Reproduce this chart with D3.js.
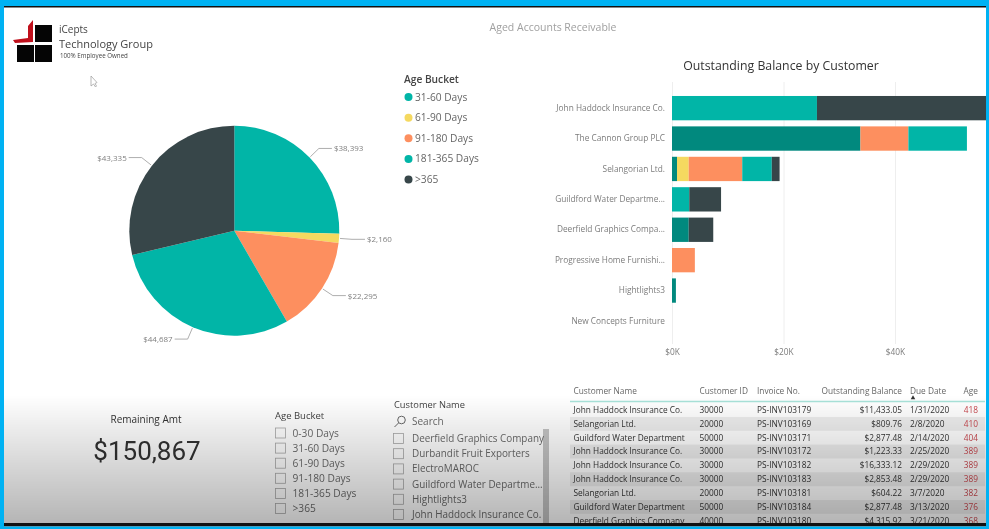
<!DOCTYPE html>
<html>
<head>
<meta charset="utf-8">
<title>Aged Accounts Receivable</title>
<script src="https://cdn.jsdelivr.net/npm/d3@7"></script>
<style>
    html, body { margin: 0; padding: 0; background: #fff; overflow: hidden; }
    svg { display: block; }
    text { font-family: "Open Sans", sans-serif; }
    .grid line { stroke: #eeeeee; }
    .grid path { display: none; }
    .graphTicks path, .graphTicks line { display: none; }
    .graphTicks text { font-size: 8.3px; fill: #7c7c7c; font-family: "Open Sans", sans-serif; }
</style>
</head>
<body>
<div class="vis"></div>
<script>
// pie + legend
const ageBuckets = ["31-60 Days", "61-90 Days", "91-180 Days", "181-365 Days", ">365"];
const bucketTotals = [38393, 2160, 22295, 44687, 43335];

// bars, one array per bucket, same order as customers
const customers = ["John Haddock Insurance Co.", "The Cannon Group PLC", "Selangorian Ltd.", "Guildford Water Departme...",
    "Deerfield Graphics Compa...", "Progressive Home Furnishi...", "Hightlights3", "New Concepts Furniture"];
const days31to60 = [0, 33800, 900, 0, 3000, 0, 700, 0];
const days61to90 = [0, 0, 2100, 0, 0, 0, 0, 0];
const days91to180 = [0, 8600, 9600, 0, 0, 4100, 0, 0];
const days181to365 = [26000, 10500, 5300, 3100, 0, 0, 0, 0];
const daysOver365 = [31800, 0, 1400, 5700, 4400, 0, 0, 0];
const xTicks = [0, 20000, 40000];

// table columns
const tableHeaders = ["Customer Name", "Customer ID", "Invoice No.", "Outstanding Balance", "Due Date", "Age"];
const rowCustomers = ["John Haddock Insurance Co.", "Selangorian Ltd.", "Guildford Water Department", "John Haddock Insurance Co.",
    "John Haddock Insurance Co.", "John Haddock Insurance Co.", "Selangorian Ltd.", "Guildford Water Department", "Deerfield Graphics Company"];
const rowIds = ["30000", "20000", "50000", "30000", "30000", "30000", "20000", "50000", "40000"];
const rowInvoices = ["PS-INV103179", "PS-INV103169", "PS-INV103171", "PS-INV103172", "PS-INV103182", "PS-INV103183", "PS-INV103181", "PS-INV103184", "PS-INV103180"];
const rowBalances = ["$11,433.05", "$809.76", "$2,877.48", "$1,223.33", "$16,333.12", "$2,853.48", "$604.22", "$2,877.48", "$4,315.92"];
const rowDates = ["1/31/2020", "2/8/2020", "2/14/2020", "2/25/2020", "2/29/2020", "2/29/2020", "3/7/2020", "3/13/2020", "3/21/2020"];
const rowAges = [418, 410, 404, 389, 389, 389, 382, 376, 368];

// slicers
const ageOptions = ["0-30 Days", "31-60 Days", "61-90 Days", "91-180 Days", "181-365 Days", ">365"];
const customerOptions = ["Deerfield Graphics Company", "Durbandit Fruit Exporters", "ElectroMAROC", "Guildford Water Departme...", "Hightlights3", "John Haddock Insurance Co."];

const remainingAmt = "$150,867";

(function () {
    const svgWidth = 989;
    const svgHeight = 529;

    const svg = d3.select('.vis')
        .append("svg")
            .attr('width', svgWidth)
            .attr('height', svgHeight);

    const defs = svg.append("defs");

    const shade = defs.append("linearGradient")
        .attr("id", "shade")
        .attr("x1", 0).attr("x2", 0).attr("y1", 0).attr("y2", 1);
    shade.append("stop").attr("offset", "0%").attr("stop-color", "#000").attr("stop-opacity", 0);
    shade.append("stop").attr("offset", "100%").attr("stop-color", "#000").attr("stop-opacity", 0.29);

    defs.append("clipPath").attr("id", "plotClip")
        .append("rect").attr("x", 672).attr("y", 80).attr("width", 314).attr("height", 270);
    defs.append("clipPath").attr("id", "tableClip")
        .append("rect").attr("x", 565).attr("y", 380).attr("width", 421).attr("height", 143);

    // the source is a soft video frame, so everything inside the border is slightly blurred
    const page = svg.append("g").style("filter", "blur(0.6px)");

    // pie colours are both the light teal, the bars use the darker one for 31-60
    const pieColours = ["#01b5a7", "#f5d960", "#fd8f5f", "#01b5a7", "#374649"];
    const barColours = ["#01897e", "#f5d960", "#fd8f5f", "#01b5a7", "#374649"];

    drawHeader();
    drawPie();
    drawLegend();
    drawBars();
    drawKpi();
    drawSlicers();
    drawTable();
    drawFrame();

    function drawHeader() {
        const logo = page.append("g");
        logo.selectAll("rect")
            .data([[35, 25], [17, 45], [35, 45]])
            .enter().append("rect")
                .attr("x", d => d[0])
                .attr("y", d => d[1])
                .attr("width", 17)
                .attr("height", 17)
                .attr("fill", "#050505");
        logo.append("path")
            .attr("d", "M13 40 L28 38 L28 26 L33 20 L33 42 L15 43 Z")
            .attr("fill", "#c0101c");

        page.append("text").attr("x", 59).attr("y", 33).attr("font-size", 10).attr("fill", "#444").text("iCepts");
        page.append("text").attr("x", 59).attr("y", 47.5).attr("font-size", 11).attr("fill", "#444").text("Technology Group");
        page.append("text").attr("x", 60).attr("y", 58).attr("font-size", 6.2).attr("fill", "#444").text("100% Employee Owned");

        page.append("text")
            .attr("x", 553).attr("y", 31)
            .attr("text-anchor", "middle")
            .attr("font-size", 10.5)
            .attr("fill", "#a0a0a0")
            .text("Aged Accounts Receivable");

        // mouse pointer caught in the recording
        page.append("path")
            .attr("d", "M91 76 L91 86 L93.5 84 L95.5 87 L96.5 86 L95 83.5 L97 82.5 Z")
            .attr("fill", "#fff")
            .attr("stroke", "#999")
            .attr("stroke-width", 0.7);
    }

    function drawPie() {
        const cx = 234.3, cy = 230.7, radius = 105, elbowRadius = 118;

        const pie = d3.pie().sort(null)(bucketTotals);
        const arc = d3.arc().innerRadius(0).outerRadius(radius);
        const graph = page.append("g").attr("transform", `translate(${cx}, ${cy})`);

        graph.selectAll("path.slice")
            .data(pie)
            .enter().append("path")
                .attr("class", "slice")
                .attr("d", arc)
                .attr("fill", (d, i) => pieColours[i]);

        const pointAt = function (d, r) {
            const mid = (d.startAngle + d.endAngle) / 2;
            return [Math.sin(mid) * r, -Math.cos(mid) * r];
        };
        const side = d => ((d.startAngle + d.endAngle) / 2 < Math.PI ? 1 : -1);

        graph.selectAll("path.leader")
            .data(pie)
            .enter().append("path")
                .attr("class", "leader")
                .attr("d", function (d) {
                    const a = pointAt(d, radius + 1);
                    const b = pointAt(d, elbowRadius);
                    return d3.line()([a, b, [b[0] + side(d) * 13, b[1]]]);
                })
                .attr("fill", "none")
                .attr("stroke", "#999")
                .attr("stroke-width", 0.8);

        graph.selectAll("text")
            .data(pie)
            .enter().append("text")
                .attr("x", d => pointAt(d, elbowRadius)[0] + side(d) * 15)
                .attr("y", d => pointAt(d, elbowRadius)[1] + 3)
                .attr("text-anchor", d => (side(d) > 0 ? "start" : "end"))
                .attr("font-size", 8)
                .attr("fill", "#808080")
                .text(d => d3.format("$,")(d.value));
    }

    function drawLegend() {
        page.append("text")
            .attr("x", 404).attr("y", 83)
            .attr("font-size", 10.2).attr("font-weight", 600).attr("fill", "#444")
            .text("Age Bucket");

        const y = d3.scalePoint().domain(ageBuckets).range([97, 179.5]);
        const items = page.append("g").selectAll("g")
            .data(ageBuckets)
            .enter().append("g")
                .attr("transform", d => `translate(408.5, ${y(d)})`);
        items.append("circle").attr("r", 4).attr("fill", (d, i) => pieColours[i]);
        items.append("text")
            .attr("x", 6.5).attr("y", 3.5)
            .attr("font-size", 10.2).attr("fill", "#666")
            .text(d => d);
    }

    function drawBars() {
        page.append("text")
            .attr("x", 781).attr("y", 69.5)
            .attr("text-anchor", "middle")
            .attr("font-size", 12.3).attr("fill", "#333")
            .text("Outstanding Balance by Customer");

        const xScale = d3.scaleLinear().domain([0, 60000]).range([672, 1006.5]);
        const yScale = d3.scaleBand().domain(customers).range([89.9, 339.2]).padding(0.2);

        page.append("g")
            .attr("class", "grid")
            .attr("transform", "translate(0, 344)")
            .call(d3.axisBottom(xScale).tickValues(xTicks).tickSize(-262).tickFormat(""));

        page.append("g")
            .attr("class", "graphTicks")
            .attr("transform", "translate(0, 346)")
            .call(d3.axisBottom(xScale).tickValues(xTicks).tickSize(0).tickPadding(3)
                .tickFormat(d => "$" + d / 1000 + "K"));

        page.append("g")
            .attr("class", "graphTicks")
            .attr("transform", "translate(672, 0)")
            .call(d3.axisLeft(yScale).tickSize(0).tickPadding(7));

        const table = customers.map((name, i) => ({
            name: name,
            a: days31to60[i], b: days61to90[i], c: days91to180[i], d: days181to365[i], e: daysOver365[i]
        }));
        const stackedData = d3.stack().keys(["a", "b", "c", "d", "e"])(table);

        page.append("g")
            .attr("clip-path", "url(#plotClip)")
            .selectAll("g")
            .data(stackedData)
            .enter().append("g")
                .attr("fill", (d, i) => barColours[i])
                .selectAll("rect")
                .data(d => d)
                .enter().append("rect")
                    .attr("x", d => xScale(d[0]))
                    .attr("y", d => yScale(d.data.name))
                    .attr("width", d => xScale(d[1]) - xScale(d[0]))
                    .attr("height", yScale.bandwidth());
    }

    function drawKpi() {
        page.append("text")
            .attr("x", 146).attr("y", 423)
            .attr("text-anchor", "middle")
            .attr("font-size", 10).attr("fill", "#333")
            .text("Remaining Amt");
        page.append("text")
            .attr("x", 147).attr("y", 460)
            .attr("text-anchor", "middle")
            .attr("font-size", 26)
            .attr("fill", "#333")
            .style("font-family", "Roboto, sans-serif")
            .text(remainingAmt);
    }

    function slicer(options, x, y0, y1, textX, fontSize) {
        const y = d3.scalePoint().domain(options).range([y0, y1]);
        const items = page.append("g").selectAll("g")
            .data(options)
            .enter().append("g")
                .attr("transform", d => `translate(0, ${y(d)})`);
        items.append("rect")
            .attr("x", x).attr("y", -5)
            .attr("width", 10).attr("height", 10)
            .attr("fill", "none").attr("stroke", "#a8a8a8").attr("stroke-width", 0.8);
        items.append("text")
            .attr("x", textX).attr("y", 3.5)
            .attr("font-size", fontSize).attr("fill", "#6a6a6a")
            .text(d => d);
    }

    function drawSlicers() {
        page.append("text").attr("x", 275).attr("y", 419).attr("font-size", 9.5).attr("fill", "#444").text("Age Bucket");
        slicer(ageOptions, 275.5, 433, 508.5, 292.5, 10.2);

        page.append("text").attr("x", 394).attr("y", 408).attr("font-size", 9.3).attr("fill", "#444").text("Customer Name");
        page.append("circle").attr("cx", 401.5).attr("cy", 420).attr("r", 3.8).attr("fill", "none").attr("stroke", "#666");
        page.append("line").attr("x1", 398.5).attr("y1", 423).attr("x2", 394.5).attr("y2", 427).attr("stroke", "#666");
        page.append("text").attr("x", 412).attr("y", 424.5).attr("font-size", 10).attr("fill", "#6a6a6a").text("Search");

        // scrollbar goes under the names, the longest ones run onto it
        page.append("rect")
            .attr("x", 543).attr("y", 429)
            .attr("width", 6).attr("height", 94)
            .attr("fill", "#c4c4c4");

        slicer(customerOptions, 393.5, 438.5, 514.5, 412, 9.9);
    }

    function drawTable() {
        const columns = [
            { x: 573.5, anchor: "start", values: rowCustomers },
            { x: 699.5, anchor: "start", values: rowIds },
            { x: 757, anchor: "start", values: rowInvoices },
            { x: 902, anchor: "end", values: rowBalances },
            { x: 910, anchor: "start", values: rowDates },
            { x: 978, anchor: "end", values: rowAges }
        ];

        const y = d3.scalePoint().domain(d3.range(rowCustomers.length)).range([410, 520.8]);
        const step = y.step();
        const body = page.append("g").attr("clip-path", "url(#tableClip)");

        body.selectAll("rect")
            .data(d3.range(rowCustomers.length).filter(i => i % 2 == 1))
            .enter().append("rect")
                .attr("x", 570)
                .attr("y", d => y(d) - step / 2)
                .attr("width", 415)
                .attr("height", step)
                .attr("fill", "#eeeeee");

        columns.forEach(function (col, c) {
            page.append("text")
                .attr("x", col.x).attr("y", 394)
                .attr("text-anchor", col.anchor)
                .attr("font-size", 8.3).attr("fill", "#666")
                .text(tableHeaders[c]);

            body.append("g").selectAll("text")
                .data(col.values)
                .enter().append("text")
                    .attr("x", col.x)
                    .attr("y", (d, i) => y(i) + 2.8)
                    .attr("text-anchor", col.anchor)
                    .attr("font-size", 8.3)
                    .attr("fill", c == 5 ? "#c8484f" : "#333")
                    .text(d => d);
        });

        page.append("line")
            .attr("x1", 570).attr("x2", 985)
            .attr("y1", 401.5).attr("y2", 401.5)
            .attr("stroke", "#a9e3da").attr("stroke-width", 1.5);

        // sort arrow under Due Date
        page.append("path")
            .attr("d", d3.symbol().type(d3.symbolTriangle).size(9))
            .attr("transform", "translate(913, 398)")
            .attr("fill", "#333");
    }

    function drawFrame() {
        // player shading over the lower part of the picture
        svg.append("rect")
            .attr("x", 0).attr("y", 395)
            .attr("width", svgWidth).attr("height", 128)
            .attr("fill", "url(#shade)");

        const cyan = "#00b2f3";
        svg.append("rect").attr("x", 0).attr("y", 0).attr("width", svgWidth).attr("height", 6).attr("fill", cyan);
        svg.append("rect").attr("x", 0).attr("y", 6).attr("width", svgWidth).attr("height", 1.5).attr("fill", "#111");
        svg.append("rect").attr("x", 0).attr("y", 0).attr("width", 4).attr("height", svgHeight).attr("fill", cyan);
        svg.append("rect").attr("x", 986).attr("y", 0).attr("width", 3).attr("height", svgHeight).attr("fill", cyan);
        svg.append("rect").attr("x", 4).attr("y", 523).attr("width", 982).attr("height", 3.5).attr("fill", "#111");
        svg.append("rect").attr("x", 0).attr("y", 526.5).attr("width", svgWidth).attr("height", 2.5).attr("fill", cyan);
    }
} (d3));
</script>
</body>
</html>
